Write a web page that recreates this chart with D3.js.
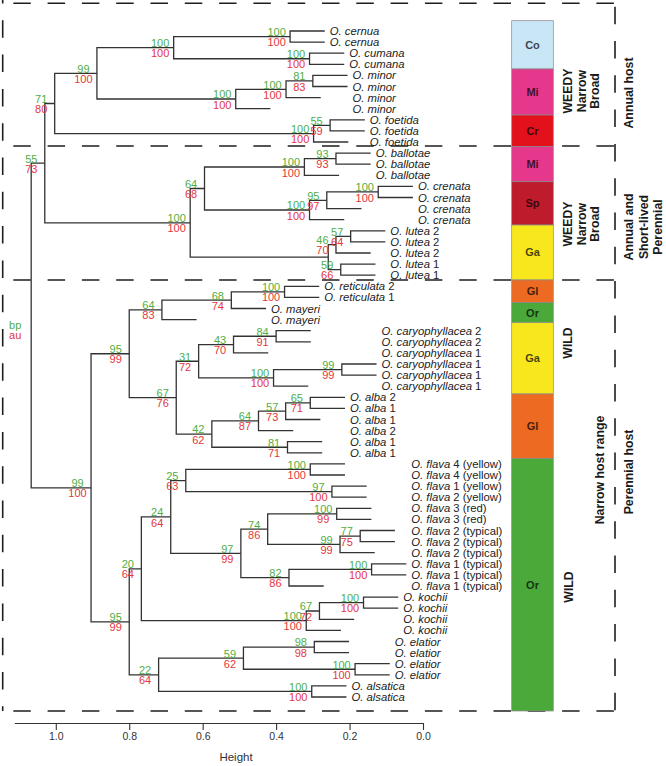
<!DOCTYPE html>
<html><head><meta charset="utf-8">
<script src="https://cdn.jsdelivr.net/npm/d3@7"></script>
<style>body{margin:0;background:#fff} svg{display:block}</style>
</head><body>
<svg id="c" width="666" height="766"></svg>
<script>
// ---------------- DATA ----------------
const leafSpecies = [
 "O. cernua","O. cernua","O. cumana","O. cumana",
 "O. minor","O. minor","O. minor","O. minor",
 "O. foetida","O. foetida","O. foetida",
 "O. ballotae","O. ballotae","O. ballotae",
 "O. crenata","O. crenata","O. crenata","O. crenata",
 "O. lutea","O. lutea","O. lutea","O. lutea","O. lutea",
 "O. reticulata","O. reticulata","O. mayeri","O. mayeri",
 "O. caryophyllacea","O. caryophyllacea","O. caryophyllacea","O. caryophyllacea","O. caryophyllacea","O. caryophyllacea",
 "O. alba","O. alba","O. alba","O. alba","O. alba","O. alba",
 "O. flava","O. flava","O. flava","O. flava","O. flava","O. flava",
 "O. flava","O. flava","O. flava","O. flava","O. flava","O. flava",
 "O. kochii","O. kochii","O. kochii","O. kochii",
 "O. elatior","O. elatior","O. elatior","O. elatior",
 "O. alsatica","O. alsatica"
];
const leafSuffix = [
 "","","","", "","","","", "","","", "","","", "","","","",
 "2","2","2","1","1",
 "2","1","","",
 "2","2","1","1","1","1",
 "2","1","1","2","1","1",
 "4 (yellow)","4 (yellow)","1 (yellow)","2 (yellow)","3 (red)","3 (red)",
 "2 (typical)","2 (typical)","2 (typical)","1 (typical)","1 (typical)","1 (typical)",
 "","","","", "","","","", "",""
];
// hclust-style merges: negative = leaf (1-based), positive = earlier merge (1-based)
const mergePairs = [
 [-1,-2],[-3,-4],[1,2],[-5,-6],[4,-7],[5,-8],[3,6],[-9,-10],[8,-11],[7,9],
 [-12,-13],[11,-14],[-15,-16],[13,-17],[14,-18],[12,15],[-19,-20],[17,-21],[-22,-23],[18,19],
 [16,20],[10,21],[-24,-25],[23,-26],[24,-27],[-28,-29],[26,-30],[-31,-32],[28,-33],[27,29],
 [-34,-35],[31,-36],[32,-37],[-38,-39],[33,34],[30,35],[25,36],[-40,-41],[-42,-43],[38,39],
 [-44,-45],[-46,-47],[42,-48],[41,43],[-49,-50],[45,-51],[44,46],[40,47],[-52,-53],[49,-54],
 [50,-55],[48,51],[-56,-57],[-58,-59],[53,54],[-60,-61],[55,56],[52,57],[37,58],[22,59]
];
const mergeHeights = [
 0.362,0.309,0.679,0.300,0.373,0.510,0.888,0.253,0.298,1.003,
 0.237,0.323,0.122,0.262,0.309,0.595,0.197,0.237,0.224,0.258,
 0.634,1.030,0.377,0.522,0.711,0.400,0.516,0.221,0.407,0.611,
 0.307,0.374,0.448,0.369,0.575,0.672,0.800,0.307,0.248,0.646,
 0.235,0.171,0.226,0.423,0.140,0.365,0.496,0.687,0.162,0.282,
 0.318,0.767,0.296,0.185,0.489,0.303,0.720,0.800,0.904,1.067
];
const bpValues = [
 100,100,100,81,100,100,99,55,100,71,
 93,100,100,95,100,64,57,46,59,null,
 100,55,100,68,64,84,43,99,100,31,
 65,57,64,81,42,67,95,100,97,25,
 100,77,99,74,100,82,97,24,100,67,
 100,20,98,100,59,100,22,95,99,null
];
const auValues = [
 100,100,100,83,100,100,100,59,100,80,
 93,100,100,97,100,68,64,70,66,null,
 100,73,100,74,83,91,70,99,100,72,
 71,73,87,71,62,76,99,100,100,63,
 99,75,99,86,100,86,99,64,100,72,
 100,64,98,100,62,100,64,99,100,null
];
const axisTicks = [1.0, 0.8, 0.6, 0.4, 0.2, 0.0];
// host group colour bar: names and boundaries in leaf-position units
const barNames = ["Co","Mi","Cr","Mi","Sp","Ga","Gl","Or","Ga","Gl","Or"];
const barBounds = [-0.93, 3.42, 7.57, 10.42, 13.58, 17.48, 22.43, 24.48, 26.28, 32.7, 38.5, 61.26];
const barColors = {Co:"#c9e6f7", Mi:"#e5378b", Cr:"#e3111c", Sp:"#be1b2c", Ga:"#f7e71c", Gl:"#ec6a22", Or:"#4ba93a"};

// ---------------- LAYOUT ----------------
const svg = d3.select("#c");
const FONT = "'Liberation Sans', Arial, Helvetica, sans-serif";
const x = d3.scaleLinear().domain([0, 1.113]).range([423, 14.3]);
const y = d3.scaleLinear().domain([0, leafSpecies.length - 1]).range([31, 697]);
const HANG = 0.0945;
const GREEN = "#4fae45", RED = "#e4363b";

const merges = mergePairs.map((p, i) => ({kids: p, h: mergeHeights[i], bp: bpValues[i], au: auValues[i]}));
const leafEndH = new Array(leafSpecies.length);
merges.forEach(m => m.kids.forEach(k => { if (k < 0) leafEndH[-k - 1] = m.h - HANG; }));
const refY = r => r < 0 ? y(-r - 1) : merges[r - 1].y;
const refH = r => r < 0 ? leafEndH[-r - 1] : merges[r - 1].h;
merges.forEach(m => { m.y = (refY(m.kids[0]) + refY(m.kids[1])) / 2; });

// dashed frame
const frame = svg.append("g").attr("stroke", "#1e1e1e").attr("stroke-width", 1.6)
  .attr("stroke-dasharray", "17.5 16.8").attr("fill", "none");
[3.3, 146, 280, 711].forEach(yy => frame.append("line").attr("x1", -21).attr("x2", 615).attr("y1", yy).attr("y2", yy));
frame.append("line").attr("x1", 2.7).attr("x2", 2.7).attr("y1", -14).attr("y2", 711);
frame.append("line").attr("x1", 615).attr("x2", 615).attr("y1", -27.6).attr("y2", 711);

// tree
const tree = svg.append("g").attr("fill", "none").attr("stroke", "#333").attr("stroke-width", 1.3);
merges.forEach(m => {
  const [a, b] = m.kids;
  const xm = x(m.h);
  tree.append("path").attr("d",
    `M${x(refH(a))},${refY(a)}H${xm}V${refY(b)}H${x(refH(b))}`);
});

// node labels
const nl = svg.append("g").attr("font-family", FONT).attr("font-size", "11px").attr("text-anchor", "middle");
merges.forEach(m => {
  if (m.bp == null) return;
  nl.append("text").attr("x", x(m.h) - 13.5).attr("y", m.y - 0.6).attr("fill", GREEN).text(m.bp);
  nl.append("text").attr("x", x(m.h) - 13.5).attr("y", m.y + 9.6).attr("fill", RED).text(m.au);
});
const root = merges[merges.length - 1];
nl.append("text").attr("x", x(root.h) - 16).attr("y", root.y + 3.6).attr("fill", GREEN).text("bp");
nl.append("text").attr("x", x(root.h) - 16).attr("y", root.y + 14).attr("fill", RED).text("au");

// leaf labels: aligned per species at the rightmost branch end of that species
const spMinH = {};
leafSpecies.forEach((s, i) => { spMinH[s] = Math.min(spMinH[s] ?? Infinity, leafEndH[i]); });
const ll = svg.append("g").attr("font-family", FONT).attr("font-size", "11.3px").attr("fill", "#222");
leafSpecies.forEach((s, i) => {
  const t = ll.append("text").attr("x", x(spMinH[s]) + 5).attr("y", y(i)).attr("dy", "0.36em");
  t.append("tspan").attr("font-style", "italic").text(s);
  if (leafSuffix[i]) t.append("tspan").text(" " + leafSuffix[i]);
});

// colour bar
const bar = svg.append("g");
barNames.forEach((n, i) => {
  const y0 = y(barBounds[i]), y1 = y(barBounds[i + 1]);
  bar.append("rect").attr("x", 511.7).attr("y", y0).attr("width", 41.6).attr("height", y1 - y0)
    .attr("fill", barColors[n]).attr("stroke", "#8a8a8a").attr("stroke-width", 0.7);
  bar.append("text").attr("x", 532.5).attr("y", (y0 + y1) / 2).attr("dy", "0.36em")
    .attr("text-anchor", "middle").attr("font-family", FONT).attr("font-weight", "bold")
    .attr("font-size", "11px").attr("fill", "rgba(0,0,0,0.72)").text(n);
});

// axis
const ax = svg.append("g").attr("transform", "translate(0,723)")
  .call(d3.axisBottom(x).tickValues(axisTicks).tickFormat(d3.format(".1f")).tickSize(7).tickSizeOuter(0));
ax.attr("font-family", FONT).attr("font-size", "10.5px");
ax.select(".domain").attr("stroke", "#333").attr("stroke-width", 1.1);
ax.selectAll(".tick line").attr("stroke", "#333").attr("stroke-width", 1.1);
ax.selectAll(".tick text").attr("fill", "#333");
svg.append("text").attr("x", 236).attr("y", 761).attr("text-anchor", "middle")
  .attr("font-family", FONT).attr("font-size", "11.5px").attr("fill", "#333").text("Height");

// side annotations (rotated)
const side = [
  {t: "WEEDY", x: 567.5, y: 91}, {t: "Narrow", x: 581.5, y: 91}, {t: "Broad", x: 595, y: 91},
  {t: "WEEDY", x: 567.5, y: 224}, {t: "Narrow", x: 581.5, y: 224}, {t: "Broad", x: 595, y: 224},
  {t: "Annual host", x: 629, y: 93},
  {t: "Annual and", x: 629, y: 227}, {t: "Short-lived", x: 643.5, y: 227}, {t: "Perennial", x: 657.5, y: 227},
  {t: "WILD", x: 568, y: 343}, {t: "WILD", x: 569, y: 587},
  {t: "Narrow host range", x: 600, y: 470}, {t: "Perennial host", x: 629, y: 472}
];
const sg = svg.append("g").attr("font-family", FONT).attr("font-weight", "bold").attr("font-size", "12.3px").attr("fill", "#1a1a1a");
side.forEach(d => sg.append("text").attr("transform", `translate(${d.x},${d.y}) rotate(-90)`)
  .attr("text-anchor", "middle").attr("dy", "0.36em").text(d.t));
</script>
</body></html>
